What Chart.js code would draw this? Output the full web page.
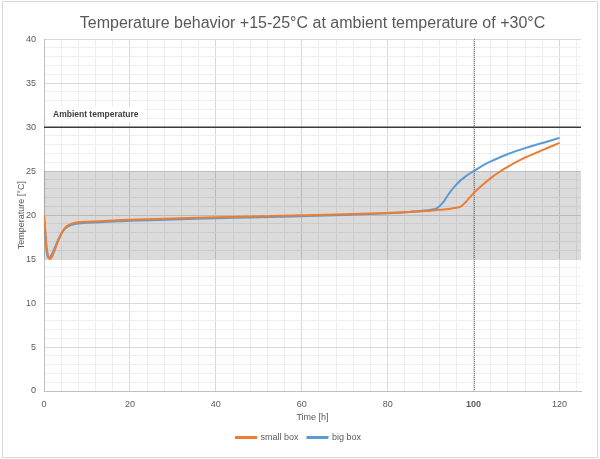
<!DOCTYPE html>
<html><head><meta charset="utf-8">
<script src="https://cdn.jsdelivr.net/npm/chart.js@4"></script>
<style>html,body{margin:0;padding:0;background:#fff}</style>
</head><body>
<canvas id="c" width="600" height="459"></canvas>
<script>
const chartTitle = 'Temperature behavior +15-25°C at ambient temperature of +30°C';
const timeHours = [0, 0.3, 0.6, 1.0, 1.4, 2, 2.7, 3.5, 4.3, 5, 5.8, 7, 8, 10, 13, 17, 20, 30, 40, 48, 60, 70, 80, 85, 88, 90, 91.5, 93, 94.2, 95.5, 97, 98, 99, 100, 102, 104, 106, 108, 110, 112, 114, 116, 118, 120];
const smallBox = [20, 18.2, 16.4, 15.3, 15.0, 15.4, 16.3, 17.3, 18.1, 18.6, 18.9, 19.1, 19.2, 19.25, 19.3, 19.42, 19.47, 19.62, 19.76, 19.85, 19.98, 20.1, 20.25, 20.35, 20.45, 20.5, 20.57, 20.63, 20.7, 20.8, 20.95, 21.4, 21.95, 22.5, 23.4, 24.2, 24.9, 25.5, 26.05, 26.55, 26.97, 27.38, 27.8, 28.22];
const bigBox = [20, 17.8, 16.0, 15.15, 15.2, 15.7, 16.5, 17.4, 18.1, 18.5, 18.75, 18.95, 19.05, 19.12, 19.18, 19.3, 19.35, 19.5, 19.65, 19.73, 19.88, 20.02, 20.2, 20.35, 20.5, 20.62, 20.8, 21.5, 22.4, 23.2, 23.95, 24.35, 24.7, 25.0, 25.6, 26.1, 26.55, 26.95, 27.3, 27.62, 27.92, 28.2, 28.48, 28.78];
const ambientTime = [0, 125];
const ambientTemp = [30, 30];
const bandRange = [15, 25];
const markerTime = 100;
const seriesNames = ['small box', 'big box'];
const ambientLabel = 'Ambient temperature';
const xTitle = 'Time [h]';
const yTitle = 'Temperature [°C]';
const xMajorStep = 20, xMinorStep = 4, xMax = 125;
const yMajorStep = 5, yMinorStep = 1, yMax = 40;

const FONT = '"Liberation Sans", Arial, sans-serif';
const GREY = '#595959';

const toXY = (xs, ys) => xs.map((x, i) => ({x, y: ys[i]}));

const decor = {
  id: 'decor',
  beforeDraw(chart) {
    const c = chart.ctx;
    c.save();
    c.fillStyle = '#fff';
    c.fillRect(0, 0, chart.width, chart.height);
    c.strokeStyle = '#d9d9d9';
    c.lineWidth = 1;
    c.strokeRect(2.5, 1.5, 595, 456);
    c.restore();
  },
  beforeDatasetsDraw(chart) {
    const c = chart.ctx, x = chart.scales.x, y = chart.scales.y, a = chart.chartArea;
    c.save();
    const yTop = y.getPixelForValue(bandRange[1]), yBot = y.getPixelForValue(bandRange[0]);
    c.fillStyle = 'rgba(0,0,0,0.14)';
    c.fillRect(a.left, yTop, a.right - a.left, yBot - yTop);
    const mx = Math.round(x.getPixelForValue(markerTime)) + 0.5;
    c.strokeStyle = '#6a6a6a';
    c.lineWidth = 1;
    c.setLineDash([1, 1]);
    c.beginPath(); c.moveTo(mx, a.top); c.lineTo(mx, a.bottom); c.stroke();
    c.setLineDash([]);
    const ly = y.getPixelForValue(31.4);
    const lx = x.getPixelForValue(0) + 2;
    c.font = 'bold 8.5px ' + FONT;
    const w = c.measureText(ambientLabel).width;
    c.fillStyle = '#fff';
    c.fillRect(lx, ly - 8, w + 14, 16);
    c.fillStyle = '#404040';
    c.textBaseline = 'middle';
    c.fillText(ambientLabel, lx + 7, ly);
    c.restore();
  }
};

new Chart(document.getElementById('c'), {
  type: 'line',
  data: {
    datasets: [
      {label: seriesNames[0], data: toXY(timeHours, smallBox), borderColor: '#ED7D31', backgroundColor: '#ED7D31', borderWidth: 2, pointRadius: 0, cubicInterpolationMode: 'monotone'},
      {label: seriesNames[1], data: toXY(timeHours, bigBox), borderColor: '#5B9BD5', backgroundColor: '#5B9BD5', borderWidth: 2, pointRadius: 0, cubicInterpolationMode: 'monotone'},
      {label: 'ambient', data: toXY(ambientTime, ambientTemp), borderColor: '#3a3a3a', borderWidth: 1.5, pointRadius: 0}
    ]
  },
  options: {
    responsive: false,
    animation: false,
    layout: {padding: {left: 16, right: 19, top: 0, bottom: 7}},
    plugins: {
      title: {display: true, fullSize: false, text: chartTitle, color: GREY, font: {family: FONT, size: 16, weight: 'normal'}, padding: {top: 14, bottom: 6}},
      legend: {
        position: 'bottom',
        labels: {
          color: GREY, font: {family: FONT, size: 9}, boxWidth: 20, boxHeight: 1, padding: 9,
          filter: item => item.datasetIndex < 2
        }
      },
      tooltip: {enabled: false}
    },
    scales: {
      x: {
        type: 'linear', min: 0, max: xMax,
        afterBuildTicks: s => { const t = []; for (let v = 0; v <= xMax; v += xMinorStep) t.push({value: v}); s.ticks = t; },
        afterFit: s => { s.height = 33; },
        grid: {color: ctx => (ctx.tick && ctx.tick.value % xMajorStep === 0) ? '#d9d9d9' : '#eeeeee', drawTicks: false},
        border: {color: '#bfbfbf'},
        ticks: {
          color: GREY, padding: 8, maxRotation: 0, autoSkip: false,
          font: ctx => ({family: FONT, size: 9, weight: (ctx.tick && ctx.tick.value === markerTime) ? 'bold' : 'normal'}),
          callback: v => v % xMajorStep === 0 ? v : ''
        },
        title: {display: true, text: xTitle, color: GREY, font: {family: FONT, size: 9}, padding: {top: 0, bottom: 1}}
      },
      y: {
        min: 0, max: yMax,
        afterBuildTicks: s => { const t = []; for (let v = 0; v <= yMax; v += yMinorStep) t.push({value: v}); s.ticks = t; },
        afterFit: s => { s.width = 28; },
        grid: {color: ctx => (ctx.tick && ctx.tick.value % yMajorStep === 0) ? '#d9d9d9' : '#eeeeee', drawTicks: false},
        border: {color: '#bfbfbf'},
        ticks: {color: GREY, padding: 8, autoSkip: false, font: {family: FONT, size: 9}, callback: v => v % yMajorStep === 0 ? v : ''},
        title: {display: true, text: yTitle, color: GREY, font: {family: FONT, size: 9}, padding: {top: 0, bottom: 0}}
      }
    }
  },
  plugins: [decor]
});
</script>
</body></html>
